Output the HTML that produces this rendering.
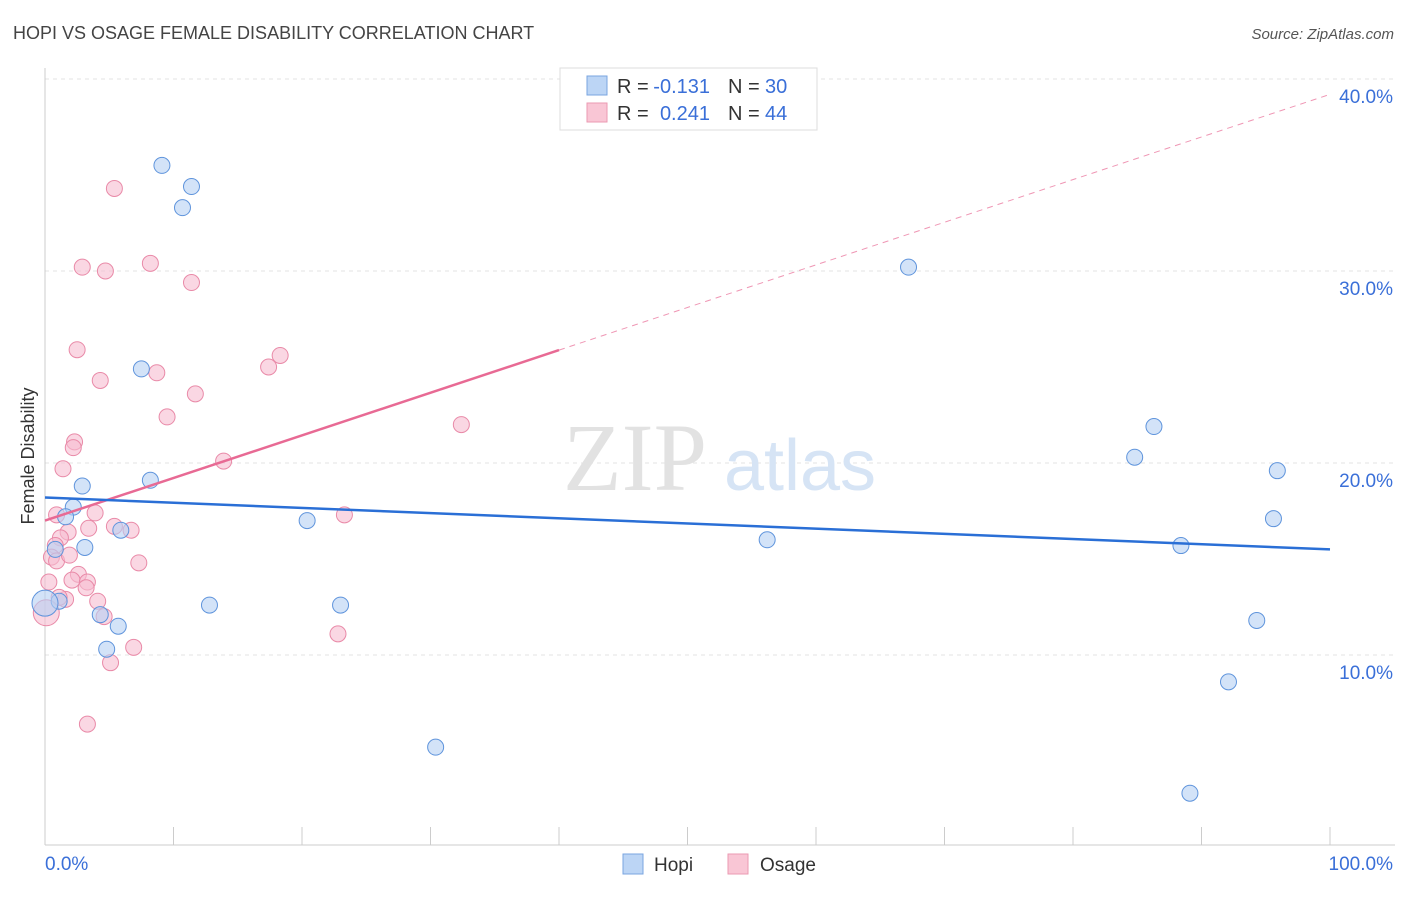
<!DOCTYPE html>
<html><head><meta charset="utf-8"><style>
body{margin:0;background:#fff;font-family:"Liberation Sans",sans-serif;}
</style></head><body>
<svg id="chart" width="1406" height="892" xmlns="http://www.w3.org/2000/svg" font-family="Liberation Sans, sans-serif">
<text x="13" y="39" font-size="18" fill="#444">HOPI VS OSAGE FEMALE DISABILITY CORRELATION CHART</text>
<text x="1394" y="39" font-size="15" fill="#555" text-anchor="end" font-style="italic">Source: ZipAtlas.com</text>
<g id="grid"></g>
<g>
<text x="635" y="490" font-size="96" fill="#e2e2e2" font-family="Liberation Serif, serif" text-anchor="middle">ZIP</text>
<text x="800" y="490" font-size="72" fill="#d6e4f5" text-anchor="middle">atlas</text>
</g>
<g id="axes"></g>
<g id="marks"></g>
<text transform="translate(34,456) rotate(-90)" font-size="18" fill="#333" text-anchor="middle">Female Disability</text>
<g>
<rect x="560" y="68" width="257" height="62" fill="#fff" stroke="#ddd"/>
<rect x="587" y="76" width="20" height="19" fill="#bcd5f5" stroke="#7aa5e0"/>
<rect x="587" y="103" width="20" height="19" fill="#f9c6d5" stroke="#eb9ab2"/>
<text x="617" y="93" font-size="20" fill="#333">R =</text>
<text x="710" y="93" font-size="20" fill="#3a6fd8" text-anchor="end">-0.131</text>
<text x="728" y="93" font-size="20" fill="#333">N =</text>
<text x="765" y="93" font-size="20" fill="#3a6fd8">30</text>
<text x="617" y="120" font-size="20" fill="#333">R =</text>
<text x="710" y="120" font-size="20" fill="#3a6fd8" text-anchor="end">0.241</text>
<text x="728" y="120" font-size="20" fill="#333">N =</text>
<text x="765" y="120" font-size="20" fill="#3a6fd8">44</text>
</g>
<g>
<rect x="623" y="854" width="20" height="20" fill="#bcd5f5" stroke="#7aa5e0"/>
<text x="654" y="871" font-size="19" fill="#333">Hopi</text>
<rect x="728" y="854" width="20" height="20" fill="#f9c6d5" stroke="#eb9ab2"/>
<text x="760" y="871" font-size="19" fill="#333">Osage</text>
</g>
</svg>
<script>
const yTicks=[10,20,30,40];
const yTickLabels=["10.0%","20.0%","30.0%","40.0%"];
const xTickLabels=["0.0%","100.0%"];
const hopiX=[9.1,11.4,10.7,67.2,7.5,86.3,84.8,95.9,8.2,2.9,2.2,1.6,20.4,95.6,5.9,56.2,88.4,0.8,3.1,1.1,0,12.8,23.0,4.3,5.7,94.3,4.8,92.1,30.4,89.1];
const hopiY=[35.5,34.4,33.3,30.2,24.9,21.9,20.3,19.6,19.1,18.8,17.7,17.2,17.0,17.1,16.5,16.0,15.7,15.5,15.6,12.8,12.7,12.6,12.6,12.1,11.5,11.8,10.3,8.6,5.2,2.8];
const osageX=[5.4,2.9,8.2,4.7,11.4,2.5,18.3,17.4,8.7,4.3,11.7,9.5,32.4,2.3,2.2,13.9,1.4,23.3,0.9,3.9,3.4,5.4,6.7,1.8,1.2,0.8,0.5,0.9,7.3,2.6,2.1,3.3,0.3,3.2,4.1,1.6,1.1,4.6,0.1,22.8,6.9,5.1,3.3,1.9];
const osageY=[34.3,30.2,30.4,30.0,29.4,25.9,25.6,25.0,24.7,24.3,23.6,22.4,22.0,21.1,20.8,20.1,19.7,17.3,17.3,17.4,16.6,16.7,16.5,16.4,16.1,15.7,15.1,14.9,14.8,14.2,13.9,13.8,13.8,13.5,12.8,12.9,13.0,12.0,12.2,11.1,10.4,9.6,6.4,15.2];
const hopiTrend=[18.2,15.5];
const osageTrend=[17.0,39.2];
const osageSolidEnd=40;
const NS="http://www.w3.org/2000/svg";
const X=v=>45+v*12.85, Y=v=>655-(v-10)*19.2;
function mk(p,t,a){const e=document.createElementNS(NS,t);for(const k in a)e.setAttribute(k,a[k]);p.appendChild(e);return e;}
const grid=document.getElementById('grid'),axes=document.getElementById('axes'),marks=document.getElementById('marks');
yTicks.forEach((v,i)=>{
 const l=mk(grid,'line',{x1:45,x2:1395,y1:Y(v),y2:Y(v),stroke:'#e3e3e3','stroke-dasharray':'4,4'});
 
 
 const t=mk(axes,'text',{x:1393,y:Y(v)+24,'font-size':19,fill:'#3a6fd8','text-anchor':'end'});
 t.textContent=yTickLabels[i];
 
 
});
mk(axes,'line',{x1:45,x2:45,y1:68,y2:845,stroke:'#ccc'});
mk(axes,'line',{x1:45,x2:1395,y1:845,y2:845,stroke:'#ccc'});
for(let i=0;i<=10;i++){const tk=mk(axes,'line',{x1:X(i*10),x2:X(i*10),y1:827,y2:845,stroke:'#ccc'});
 
 }
[[0,'start',45],[1,'end',1393]].forEach(([i,a,x])=>{const t=mk(axes,'text',{x:x,y:870,'font-size':19,fill:'#3a6fd8','text-anchor':a});t.textContent=xTickLabels[i];
 
 });
function dots(xs,ys,fill,stroke,name){xs.forEach((x,i)=>{const big=x<0.15;
 const c=mk(marks,'circle',{cx:X(x),cy:Y(ys[i]),r:big?13:8,fill:fill,'fill-opacity':0.6,stroke:stroke,'stroke-width':1});
 
 });}
dots(osageX,osageY,'#f7bdd0','#e98aa8','osage-point');
dots(hopiX,hopiY,'#b5d0f3','#5f94dc','hopi-point');
const oy=x=>osageTrend[0]+(osageTrend[1]-osageTrend[0])*x/100;
const p1=mk(marks,'line',{x1:X(osageSolidEnd),y1:Y(oy(osageSolidEnd)),x2:X(100),y2:Y(oy(100)),stroke:'#e86a94','stroke-width':1,'stroke-dasharray':'6,5','stroke-opacity':0.7});


const p2=mk(marks,'line',{x1:X(0),y1:Y(oy(0)),x2:X(osageSolidEnd),y2:Y(oy(osageSolidEnd)),stroke:'#e86a94','stroke-width':2.5});


const h=mk(marks,'line',{x1:X(0),y1:Y(hopiTrend[0]),x2:X(100),y2:Y(hopiTrend[1]),stroke:'#2a6fd6','stroke-width':2.5});


</script>
</body></html>
